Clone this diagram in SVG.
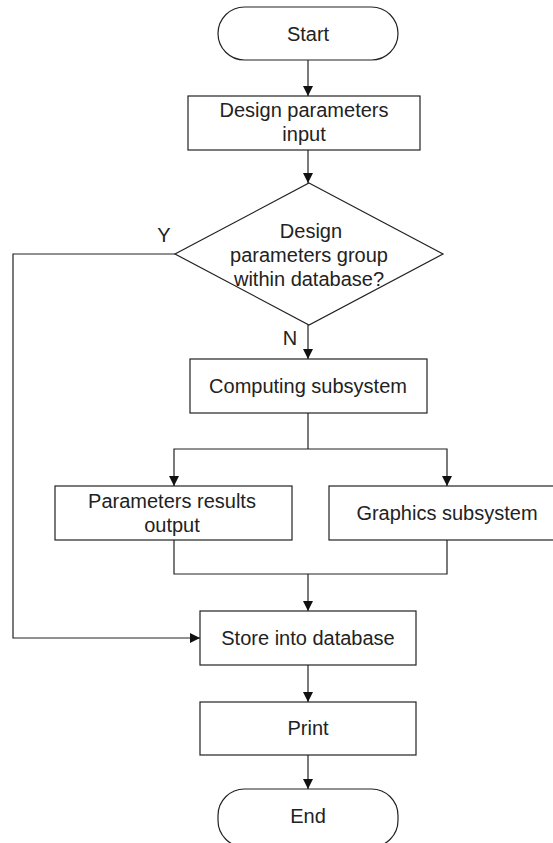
<svg xmlns="http://www.w3.org/2000/svg" width="553" height="843" viewBox="0 0 553 843">
<defs>
<marker id="arr" markerWidth="10" markerHeight="10" refX="10" refY="5" orient="auto" markerUnits="userSpaceOnUse">
<path d="M0,0 L10,5 L0,10 Z" fill="#111"/>
</marker>
<style>
.s{fill:#fff;stroke:#222;stroke-width:1.2}
.c{fill:none;stroke:#222;stroke-width:1.2}
text{font-family:"Liberation Sans",Arial,sans-serif;font-size:20px;fill:#222;text-anchor:middle}
</style>
</defs>
<rect width="553" height="843" fill="#fff"/>
<g id="connectors">
<path class="c" d="M308,60 V96" marker-end="url(#arr)"/>
<path class="c" d="M308,150 V183" marker-end="url(#arr)"/>
<path class="c" d="M308,325 V359" marker-end="url(#arr)"/>
<path class="c" d="M308,413 V449"/>
<path class="c" d="M308,449 H174 V486" marker-end="url(#arr)"/>
<path class="c" d="M308,449 H447 V486" marker-end="url(#arr)"/>
<path class="c" d="M174,540 V574 H447 V540"/>
<path class="c" d="M308,574 V611" marker-end="url(#arr)"/>
<path class="c" d="M175,254 H13 V638 H200" marker-end="url(#arr)"/>
<path class="c" d="M308,665 V702" marker-end="url(#arr)"/>
<path class="c" d="M308,755 V789" marker-end="url(#arr)"/>
<text x="164" y="242">Y</text>
<text x="290" y="345">N</text>
</g>
<g id="start">
<rect class="s" x="218" y="7" width="180" height="53" rx="26.5"/>
<text x="308" y="41">Start</text>
</g>
<g id="input">
<rect class="s" x="188" y="96" width="232" height="54"/>
<text x="304" y="117">Design parameters</text>
<text x="304" y="141">input</text>
</g>
<g id="decision">
<polygon class="s" points="309,183 443,254 309,325 175,254"/>
<text x="311" y="238">Design</text>
<text x="309" y="262">parameters group</text>
<text x="309" y="286">within database?</text>
</g>
<g id="computing">
<rect class="s" x="190" y="359" width="237" height="54"/>
<text x="308" y="393">Computing subsystem</text>
</g>
<g id="results">
<rect class="s" x="55" y="486" width="237" height="54"/>
<text x="172" y="508">Parameters results</text>
<text x="172" y="532">output</text>
</g>
<g id="graphics">
<rect class="s" x="329" y="486" width="237" height="54"/>
<text x="447" y="520">Graphics subsystem</text>
</g>
<g id="store">
<rect class="s" x="200" y="611" width="216" height="54"/>
<text x="308" y="645">Store into database</text>
</g>
<g id="print">
<rect class="s" x="200" y="702" width="216" height="53"/>
<text x="308" y="735">Print</text>
</g>
<g id="end">
<rect class="s" x="218" y="789" width="180" height="58" rx="26.5"/>
<text x="308" y="823">End</text>
</g>
</svg>
